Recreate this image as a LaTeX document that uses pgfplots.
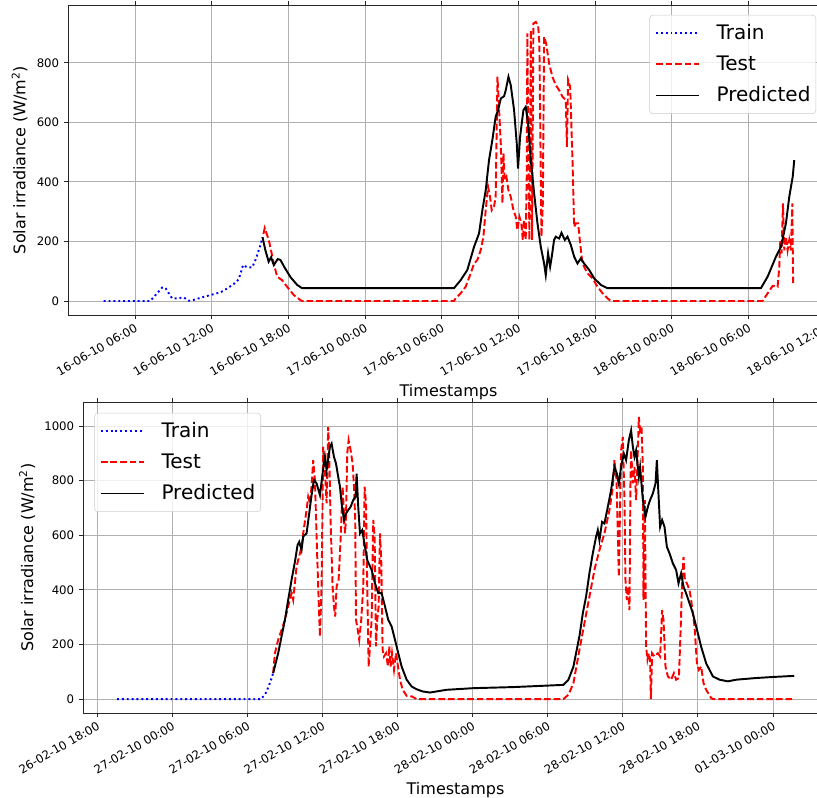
\documentclass[border=0pt]{standalone}
\usepackage{fontspec}
\setmainfont{DejaVu Sans}
\usepackage{pgfplots}
\pgfplotsset{compat=1.18}

\definecolor{gridgray}{HTML}{B0B0B0}
\definecolor{mplblue}{RGB}{0,0,255}
\definecolor{mplred}{RGB}{255,0,0}

\tikzset{
  trainln/.style={draw=mplblue, line width=1.45pt, dash pattern=on 1.45pt off 2.2pt},
  testln/.style={draw=mplred, line width=1.45pt, dash pattern=on 5pt off 2.2pt},
  predln/.style={draw=black, line width=1.45pt},
}
\pgfplotsset{
  mystyle/.style={
    scale only axis,
    axis line style={line width=0.7pt, black!85},
    grid=major,
    major grid style={gridgray, line width=0.7pt},
    tick align=outside,
    major tick length=3.1pt,
    tick style={black!85, line width=0.7pt},
    /pgf/number format/assume math mode=true,
    /pgf/number format/1000 sep={},
    scaled y ticks=false,
    ytick distance=200,
    ticklabel style={font=\fontsize{8.8}{10}\selectfont},
    xticklabel style={rotate=30, anchor=north east, inner sep=2pt},
    label style={font=\fontsize{12}{14}\selectfont},
    legend cell align=left,
    legend style={font=\fontsize{15}{18}\selectfont, draw=black!20, rounded corners=2.5pt,
      fill=white, fill opacity=0.8, text opacity=1, draw opacity=1, inner xsep=4pt, inner ysep=2pt,
      row sep=0pt, column sep=12.75pt,
      nodes={inner xsep=0pt, inner ysep=4.4pt, text height=11.5pt, text depth=3pt}},
  },
  trainst/.style={trainln, legend image code/.code={\draw[trainln] (0pt,0pt) -- (32pt,0pt);}},
  testst/.style={testln, legend image code/.code={\draw[testln] (0pt,0pt) -- (32pt,0pt);}},
  predst/.style={predln, legend image code/.code={\draw[predln] (0pt,0pt) -- (32pt,0pt);}},
}

\begin{document}
\begin{tikzpicture}
% ---------------- top panel ----------------
\begin{axis}[mystyle,
  at={(51pt,-3.75pt)}, anchor=north west,
  width=570.75pt, height=232.5pt,
  xmin=0.76, xmax=60.3, ymin=-47, ymax=994,
  xtick={6,12,...,60},
  xticklabels={16-06-10 06:00,16-06-10 12:00,16-06-10 18:00,17-06-10 00:00,17-06-10 06:00,17-06-10 12:00,17-06-10 18:00,18-06-10 00:00,18-06-10 06:00,18-06-10 12:00},
  xlabel={Timestamps},
  ylabel={Solar irradiance (W/m\textsuperscript{2})},
  legend style={at={(0.983,0.968)}, anchor=north east},
]
\addplot[trainst] coordinates {
(3.55,0) (7.2,0) (8.12,45) (8.38,44) (8.9,9) (9.3,9) (9.81,12) (10.2,1) (10.6,4)
(11.38,14) (12.16,23) (12.69,29) (13.21,42) (13.73,57) (14.12,73) (14.46,121)
(14.78,113) (15.17,113) (15.43,138) (15.82,188) (15.98,214)
};
\addlegendentry{Train}
\addplot[testst] coordinates {
(16.05,225) (16.15,245) (16.47,205) (16.86,126) (17.12,82) (17.51,70) (17.9,48) (18.43,20)
(18.95,3) (19.07,0) (30.96,0) (31.09,9) (31.48,26) (31.87,48) (32.27,93) (32.53,126)
(32.79,138) (33.05,171) (33.26,216) (33.44,305) (33.62,384) (33.78,350) (33.91,305)
(34.09,317) (34.22,350) (34.36,753) (34.49,641) (34.62,529) (34.75,328) (34.83,496)
(34.93,406) (35.06,417) (35.22,372) (35.4,350) (35.61,305) (35.79,283) (35.92,238)
(36.08,283) (36.23,261) (36.34,205) (36.44,272) (36.57,205) (36.65,417) (36.7,899) (36.76,585)
(36.86,205) (36.97,909) (37.07,205) (37.17,932) (37.36,937) (37.54,926) (37.64,865)
(37.8,216) (37.91,328) (38.01,887) (38.17,865) (38.4,798) (38.66,753) (38.92,725)
(39.19,708) (39.45,686) (39.71,675) (39.79,518) (39.89,742) (40.05,719) (40.23,473)
(40.36,249) (40.49,261) (40.67,261) (40.83,194) (41.01,126) (41.4,93) (41.8,76)
(42.19,48) (42.58,26) (42.97,9) (43.23,0) (55.1,0) (55.5,26) (55.89,51) (56.28,48)
(56.41,115) (56.49,205) (56.59,160) (56.7,328) (56.8,170) (56.93,216) (57.06,170)
(57.19,205) (57.32,170) (57.43,328) (57.49,59)
};
\addlegendentry{Test}
\addplot[predst] coordinates {
(15.98,214) (16.2,171) (16.46,132) (16.65,147) (16.86,121) (17.17,141) (17.38,138)
(17.7,113) (18.17,80) (18.69,54) (19.08,43) (30.96,43) (31.48,70) (32.0,104) (32.53,182)
(32.92,227) (33.18,305) (33.44,372) (33.7,473) (33.96,540) (34.22,619) (34.41,641)
(34.62,680) (34.88,688) (35.01,708) (35.22,753) (35.4,725) (35.66,641) (35.87,529)
(35.97,445) (36.13,551) (36.39,641) (36.57,652) (36.76,596) (36.97,473) (37.23,361)
(37.49,261) (37.75,182) (38.01,126) (38.14,87) (38.32,160) (38.48,115) (38.61,149)
(38.79,205) (38.92,216) (39.19,210) (39.37,229) (39.63,205) (39.84,216) (40.1,188)
(40.36,149) (40.62,126) (40.88,143) (41.14,126) (41.54,104) (41.93,76) (42.45,54)
(42.97,43) (54.97,43) (55.5,82) (56.15,149) (56.54,182) (56.93,261) (57.19,350)
(57.46,417) (57.58,473)
};
\addlegendentry{Predicted}
\end{axis}
% ---------------- bottom panel ----------------
\begin{axis}[mystyle,
  at={(62.25pt,-301.5pt)}, anchor=north west,
  width=558.75pt, height=233.25pt,
  xmin=-7.15, xmax=52.4, ymin=-51, ymax=1088,
  xtick={-6,0,...,48},
  xticklabels={26-02-10 18:00,27-02-10 00:00,27-02-10 06:00,27-02-10 12:00,27-02-10 18:00,28-02-10 00:00,28-02-10 06:00,28-02-10 12:00,28-02-10 18:00,01-03-10 00:00},
  xlabel={Timestamps},
  ylabel={Solar irradiance (W/m\textsuperscript{2})},
  legend style={at={(0.0152,0.965)}, anchor=north west},
]
\addplot[trainst] coordinates {
(-4.43,0) (7.1,0) (7.5,25) (7.8,60) (8.05,95)
};
\addlegendentry{Train}
\addplot[testst] coordinates {
(8.05,95) (8.19,168) (8.45,217) (8.72,253) (8.99,290) (9.25,339) (9.52,388) (9.65,363)
(9.92,485) (10.19,534) (10.32,558) (10.45,607) (10.72,692) (10.85,741) (10.99,717)
(11.12,778) (11.25,875) (11.39,802) (11.52,595) (11.65,412) (11.79,229) (11.92,412)
(12.05,924) (12.19,838) (12.32,717) (12.45,997) (12.53,899) (12.64,656) (12.8,412)
(12.91,339) (13.01,302) (13.12,412) (13.28,436) (13.44,583) (13.6,778) (13.79,607)
(13.87,656) (13.97,899) (14.08,948) (14.24,912) (14.4,863) (14.51,778) (14.61,656)
(14.67,290) (14.77,266) (14.93,217) (15.09,290) (15.25,412) (15.36,778) (15.47,717)
(15.57,412) (15.68,119) (15.79,193) (15.92,290) (16.05,656) (16.16,595) (16.27,193)
(16.37,290) (16.48,339) (16.59,607) (16.69,509) (16.8,180) (16.91,156) (17.07,168)
(17.23,119) (17.33,193) (17.44,119) (17.55,168) (17.71,107) (17.87,168) (18.03,119)
(18.19,71) (18.4,34) (18.72,12) (19.12,10) (19.52,0) (31.25,0) (31.65,16) (32.05,58)
(32.53,180) (32.93,278) (33.33,375) (33.73,473) (34.13,546) (34.53,607) (34.93,692)
(35.2,777) (35.33,875) (35.5,800) (35.68,448) (35.86,911) (36.0,960) (36.13,729)
(36.21,436) (36.32,363) (36.42,412) (36.53,326) (36.61,790) (36.66,911) (36.8,790)
(36.93,850) (37.06,729) (37.2,911) (37.28,1033) (37.38,984) (37.49,997) (37.6,850)
(37.65,363) (37.76,729) (37.86,192) (37.97,144) (38.08,168) (38.18,144) (38.24,0)
(38.34,168) (38.53,156) (38.8,168) (38.98,156) (39.14,326) (39.25,290) (39.41,119)
(39.6,83) (39.86,71) (40.08,95) (40.26,71) (40.48,77) (40.61,241) (40.74,424) (40.85,521)
(40.96,436) (41.12,424) (41.33,399) (41.46,363) (41.73,266) (41.92,132) (42.08,107)
(42.26,119) (42.45,58) (42.66,34) (43.06,4) (43.2,0) (49.7,0)
};
\addlegendentry{Test}
\addplot[predst] coordinates {
(8.05,95) (8.45,168) (8.72,229) (8.99,290) (9.25,363) (9.52,436) (9.79,503) (10.0,564)
(10.13,576) (10.32,546) (10.45,595) (10.72,607) (10.93,680) (11.12,747) (11.31,802)
(11.52,790) (11.79,747) (12.0,826) (12.19,887) (12.32,838) (12.59,924) (12.72,936)
(12.91,887) (13.07,863) (13.25,814) (13.39,778) (13.52,717) (13.71,656) (13.87,680)
(14.05,692) (14.24,704) (14.45,729) (14.64,741) (14.72,826) (14.85,704) (14.99,607)
(15.17,619) (15.39,558) (15.57,509) (15.92,473) (16.19,424) (16.45,388) (16.72,388)
(16.99,339) (17.25,290) (17.52,266) (17.79,217) (18.05,168) (18.32,119) (18.72,71)
(19.12,46) (19.52,36) (20.0,28) (20.58,24) (21.91,34) (24.05,40) (27.25,44) (31.25,52)
(31.65,71) (32.05,119) (32.55,235) (32.8,314) (33.06,375) (33.33,461) (33.6,534)
(33.86,594) (34.0,619) (34.13,582) (34.34,649) (34.53,643) (34.8,704) (35.06,765)
(35.33,850) (35.52,826) (35.68,789) (35.86,850) (36.08,899) (36.26,875) (36.48,948)
(36.66,984) (36.8,924) (36.93,887) (37.06,911) (37.28,814) (37.38,850) (37.6,729)
(37.81,667) (38.0,704) (38.18,729) (38.4,753) (38.61,789) (38.72,875) (38.82,777)
(38.98,631) (39.14,656) (39.33,631) (39.52,558) (39.73,534) (40.0,497) (40.26,473)
(40.45,424) (40.66,461) (40.85,412) (41.06,387) (41.33,351) (41.6,314) (41.86,266)
(42.26,192) (42.66,131) (43.2,83) (43.73,71) (44.4,65) (45.06,71) (46.6,77) (48.0,81)
(49.7,85)
};
\addlegendentry{Predicted}
\end{axis}
\pgfresetboundingbox
\useasboundingbox (0pt,0pt) rectangle (612.75pt,-597.75pt);
\end{tikzpicture}
\end{document}
